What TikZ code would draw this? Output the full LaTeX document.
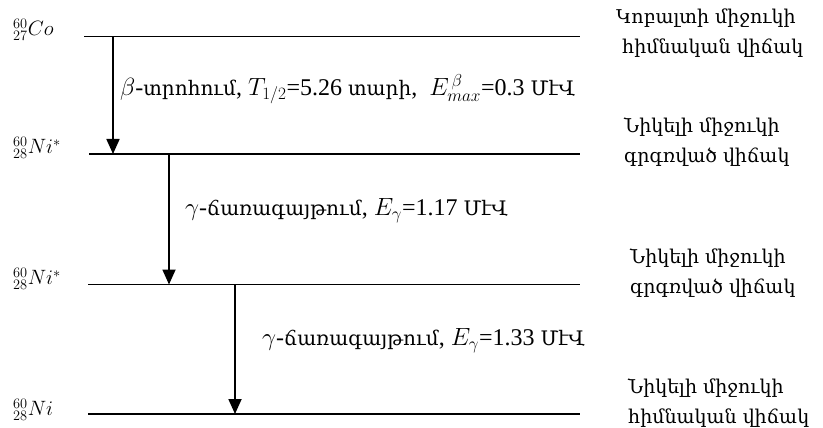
\documentclass[tikz,border=0pt]{standalone}
\usepackage{fontspec}
\setmainfont{Liberation Serif}
\newfontfamily\arm{DejaVu Serif}
\newcommand\armtxt[1]{{\arm\fontsize{20}{24}\selectfont #1}}
\usetikzlibrary{arrows.meta}
\begin{document}
\begin{tikzpicture}[x=1pt,y=-1pt,
  level/.style={line width=1.3pt},
  trans/.style={line width=1.8pt,-{Triangle[width=13pt,length=15pt]}},
  nuc/.style={anchor=west,inner sep=0pt,font=\fontsize{22}{26}\selectfont},
  lab/.style={anchor=west,inner sep=0pt,font=\fontsize{24}{28}\selectfont},
  state/.style={anchor=west,inner sep=0pt,align=left,font=\arm\fontsize{19}{30}\selectfont}]
\useasboundingbox (0,0) rectangle (823,428);
% levels
\coordinate (l1a) at (84,36.5);  \coordinate (l1b) at (580,36.5);
\coordinate (l2a) at (89,154);   \coordinate (l2b) at (580,154);
\coordinate (l3a) at (88,284.5); \coordinate (l3b) at (580,284.5);
\coordinate (l4a) at (88,414);   \coordinate (l4b) at (580,414);
\draw[level,line width=1.1pt] (l1a) -- (l1b);
\draw[level] (l2a) -- (l2b);
\draw[level] (l3a) -- (l3b);
\draw[level] (l4a) -- (l4b);
% transitions
\coordinate (t1s) at (113,36.5); \coordinate (t1e) at (113,154);
\coordinate (t2s) at (169,154);  \coordinate (t2e) at (169,284.5);
\coordinate (t3s) at (235,284.5);\coordinate (t3e) at (235,414);
\draw[trans] (t1s) -- (t1e);
\draw[trans] (t2s) -- (t2e);
\draw[trans] (t3s) -- (t3e);
% nuclide labels
\node[nuc] (co) at (13,30) {$^{60}_{27}Co$};
\node[nuc] (ni1) at (13,148) {$^{60}_{28}Ni^{*}$};
\node[nuc] (ni2) at (13,279) {$^{60}_{28}Ni^{*}$};
\node[nuc] (ni3) at (13,410) {$^{60}_{28}Ni$};
% transition labels
\node[lab] (b) at (120,89) {$\beta$-\armtxt{տրոհում}, $T_{1/2}$=5.26 \armtxt{տարի},\ \ $E^{\,\beta}_{max}$=0.3 \armtxt{ՄէՎ}};
\node[lab] (g1) at (185,211) {$\gamma$-\armtxt{ճառագայթում}, $E_{\gamma}$=1.17 \armtxt{ՄէՎ}};
\node[lab] (g2) at (262,341) {$\gamma$-\armtxt{ճառագայթում}, $E_{\gamma}$=1.33 \armtxt{ՄէՎ}};
% state descriptions
\node[state] (s1) at (616,33) {Կոբալտի միջուկի\\\ հիմնական վիճակ};
\node[state] (s2) at (624,142) {Նիկելի միջուկի\\գրգռված վիճակ};
\node[state] (s3) at (630,273) {Նիկելի միջուկի\\գրգռված վիճակ};
\node[state] (s4) at (628,403) {Նիկելի միջուկի\\հիմնական վիճակ};
\end{tikzpicture}
\end{document}
